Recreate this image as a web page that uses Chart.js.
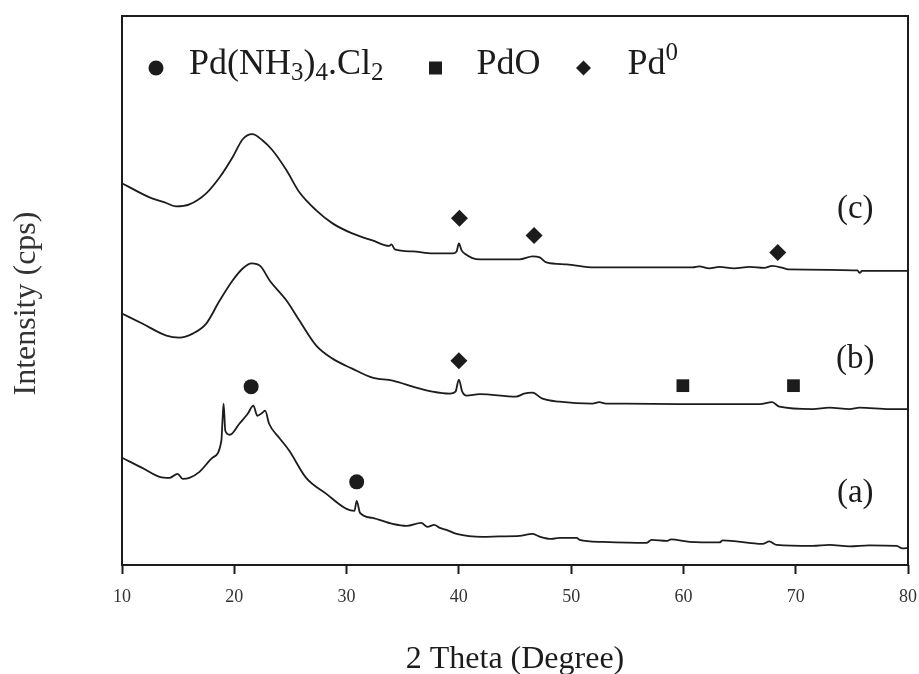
<!DOCTYPE html>
<html>
<head>
<meta charset="utf-8">
<title>XRD patterns</title>
<script src="https://cdn.jsdelivr.net/npm/chart.js@4.4.1/dist/chart.umd.min.js"></script>
<style>
  html, body { margin: 0; padding: 0; background: #fff; }
  #wrap { width: 919px; height: 674px; }
</style>
</head>
<body>
<div id="wrap"><canvas id="xrdChart" width="919" height="674"></canvas></div>
<script>
// 2θ positions (degree) and intensity (arbitrary cps, stacked) for each sample
const thetaA = [10.0, 11.8, 13.35, 14.25, 14.95, 15.4, 16.0, 16.9, 18.05, 18.85, 18.95, 19.05, 19.2, 19.6, 20.45, 21.2, 21.7, 22.05, 22.5, 22.75, 23.1, 24.0, 24.9, 26.4, 28.2, 30.0, 30.7, 30.9, 31.2, 32.3, 34.1, 35.35, 36.65, 37.2, 37.8, 38.3, 38.9, 39.8, 42.1, 43.6, 45.4, 46.55, 47.15, 48.25, 48.95, 50.5, 50.75, 52.8, 56.7, 57.15, 58.5, 58.9, 60.55, 63.2, 63.5, 67.05, 67.65, 68.3, 71.5, 73.0, 74.8, 76.55, 79.0, 79.5, 80.0];
const countsA = [107, 97, 88, 87, 91, 86, 87, 93, 107, 124, 144, 161, 134, 130, 141, 151, 159, 149, 152, 154, 141, 127, 114, 87, 71, 56, 54, 64, 52, 47, 41, 39, 42, 38, 40, 37, 35, 31, 28, 28.5, 29, 31, 28.5, 26, 27, 27, 25, 23, 22, 25, 24, 25.5, 23, 22.5, 24.5, 21, 23.5, 20, 19, 20, 18.5, 19.5, 19, 16.5, 17];

const thetaB = [10.0, 11.8, 13.95, 15.1, 16.3, 17.5, 18.7, 19.85, 20.75, 21.55, 22.35, 23.15, 24.65, 25.8, 27.3, 28.75, 30.5, 32.3, 34.1, 36.2, 37.65, 39.2, 39.7, 40.0, 40.3, 40.7, 41.85, 45.1, 45.8, 46.55, 47.45, 48.95, 51.9, 52.5, 53.1, 54.75, 59.65, 66.8, 67.9, 68.55, 71.5, 73.0, 74.8, 75.7, 78.35, 80.0];
const countsB = [251, 241, 229, 227, 231, 241, 264, 284, 296, 301, 298, 284, 264, 244, 219, 206, 196, 187, 184, 177, 173, 171, 173, 185, 173, 169, 170.5, 168, 171, 172, 166, 163, 161, 162.5, 161, 161, 160.5, 160.5, 162.5, 158, 155.5, 157, 155.5, 157, 155.5, 155.5];

const thetaC = [10.0, 12.45, 13.8, 14.8, 16.0, 17.5, 18.7, 19.85, 20.75, 21.6, 22.5, 23.4, 24.65, 25.8, 27.3, 28.75, 30.5, 32.3, 33.8, 34.0, 34.3, 35.9, 37.65, 39.45, 39.8, 40.0, 40.25, 40.5, 41.85, 45.4, 46.55, 47.2, 47.8, 49.6, 52.1, 57.9, 60.8, 61.4, 62.3, 63.2, 64.5, 65.9, 67.2, 67.9, 69.0, 69.4, 75.5, 75.7, 75.9, 80.0];
const countsC = [381, 367, 362, 358, 360, 371, 387, 407, 425, 430, 424, 414, 394, 372, 354, 341, 331, 324, 318.5, 320, 315, 313, 311, 311, 313, 321, 314, 311, 305, 305, 308, 307, 302, 300, 297, 297, 297, 298, 296, 297.5, 296, 297.5, 296.5, 298.5, 296, 295, 294, 291.5, 293.5, 293.5];

// phase markers placed over the reflections
const saltTheta = [21.5, 30.9];
const saltCounts = [178, 83];
const pdoTheta = [59.95, 69.8];
const pdoCounts = [179, 179];
const pdTheta = [40.05, 46.7, 68.4, 40.0];
const pdCounts = [346, 329, 312, 204];

// sample tags at the right side
const tagText = ['(a)', '(b)', '(c)'];
const tagTheta = [75.3, 75.3, 75.3];
const tagCounts = [72, 205, 355];

const xTicks = [10, 20, 30, 40, 50, 60, 70, 80];

const INK = '#1c1c1c';
const SERIF = "'Liberation Serif', 'DejaVu Serif', serif";

function toPoints(xs, ys) {
    return xs.map((x, i) => ({ x: x, y: ys[i] }));
}

function traceDataset(xs, ys) {
    return {
        data: toPoints(xs, ys),
        showLine: true,
        borderColor: INK,
        borderWidth: 1.8,
        pointRadius: 0,
        cubicInterpolationMode: 'monotone',
        order: 2
    };
}

function markerDataset(xs, ys, style, radius) {
    return {
        data: toPoints(xs, ys),
        showLine: false,
        pointStyle: style,
        pointRadius: radius,
        backgroundColor: INK,
        borderColor: INK,
        borderWidth: 0,
        order: 1
    };
}

// Legend entries: marker shape plus text split into normal / sub / sup runs
const legendItems = [
    { shape: 'circle', gap: 33, after: 52, parts: [['Pd(NH', 0], ['3', 1], [')', 0], ['4', 1], ['.Cl', 0], ['2', 1]] },
    { shape: 'square', gap: 41, after: 43, parts: [['PdO', 0]] },
    { shape: 'diamond', gap: 44, after: 0, parts: [['Pd', 0], ['0', 2]] }
];

function drawShape(ctx, shape, x, y) {
    ctx.beginPath();
    if (shape === 'circle') {
        ctx.arc(x, y, 7.5, 0, Math.PI * 2);
    } else if (shape === 'square') {
        ctx.rect(x - 6.5, y - 6.5, 13, 13);
    } else {
        ctx.moveTo(x - 7.5, y);
        ctx.lineTo(x, y - 7.5);
        ctx.lineTo(x + 7.5, y);
        ctx.lineTo(x, y + 7.5);
        ctx.closePath();
    }
    ctx.fill();
}

function drawRich(ctx, parts, x, baseline) {
    for (const [text, kind] of parts) {
        ctx.font = (kind === 0 ? '36px ' : '25px ') + SERIF;
        const dy = kind === 1 ? 6 : (kind === 2 ? -14 : 0);
        ctx.fillText(text, x, baseline + dy);
        x += ctx.measureText(text).width;
    }
    return x;
}

const frameAndLabels = {
    id: 'frameAndLabels',
    afterDatasetsDraw(chart) {
        const { ctx, chartArea, scales } = chart;
        ctx.save();

        // plot frame
        ctx.strokeStyle = INK;
        ctx.lineWidth = 2;
        ctx.strokeRect(chartArea.left, chartArea.top, chartArea.right - chartArea.left, chartArea.bottom - chartArea.top);

        // (a) (b) (c)
        ctx.fillStyle = INK;
        ctx.font = '33px ' + SERIF;
        ctx.textAlign = 'center';
        ctx.textBaseline = 'middle';
        tagText.forEach((t, i) => {
            ctx.fillText(t, scales.x.getPixelForValue(tagTheta[i]), scales.y.getPixelForValue(tagCounts[i]));
        });

        // y-axis title, sitting a little below the middle of the frame
        ctx.save();
        ctx.translate(chartArea.left - 95, (chartArea.top + chartArea.bottom) / 2 + 13);
        ctx.rotate(-Math.PI / 2);
        ctx.fillStyle = '#333';
        ctx.font = '32px ' + SERIF;
        ctx.fillText('Intensity (cps)', 0, 0);
        ctx.restore();

        // legend row
        ctx.textAlign = 'left';
        ctx.textBaseline = 'alphabetic';
        let x = chartArea.left + 34;
        const baseline = chartArea.top + 58;
        legendItems.forEach((item) => {
            drawShape(ctx, item.shape, x, baseline - 6);
            x = drawRich(ctx, item.parts, x + item.gap, baseline);
            x += item.after;
        });

        ctx.restore();
    }
};

const ctx = document.getElementById('xrdChart').getContext('2d');
new Chart(ctx, {
    type: 'scatter',
    data: {
        datasets: [
            traceDataset(thetaA, countsA),
            traceDataset(thetaB, countsB),
            traceDataset(thetaC, countsC),
            markerDataset(saltTheta, saltCounts, 'circle', 7.5),
            markerDataset(pdoTheta, pdoCounts, 'rect', 9),
            markerDataset(pdTheta, pdCounts, 'rectRot', 8.5)
        ]
    },
    options: {
        responsive: false,
        animation: false,
        devicePixelRatio: 1,
        layout: { padding: { left: 122, top: 16, right: 11, bottom: 0 } },
        plugins: {
            legend: { display: false },
            tooltip: { enabled: false }
        },
        scales: {
            x: {
                type: 'linear',
                min: 10,
                max: 80,
                afterBuildTicks: (scale) => { scale.ticks = xTicks.map(v => ({ value: v })); },
                // the end labels may hang past the frame; don't let them shrink it
                afterFit: (scale) => { scale.paddingLeft = 0; scale.paddingRight = 0; },
                ticks: {
                    font: { family: SERIF, size: 18 },
                    color: '#333',
                    padding: 12,
                    maxRotation: 0
                },
                grid: {
                    display: true,
                    drawOnChartArea: false,
                    drawTicks: true,
                    tickLength: 9,
                    tickColor: INK,
                    tickWidth: 2
                },
                border: { display: false },
                title: {
                    display: true,
                    text: '2 Theta (Degree)',
                    font: { family: SERIF, size: 32 },
                    color: INK,
                    padding: { top: 21, bottom: -5 }
                }
            },
            y: {
                display: false,
                min: 0,
                max: 548
            }
        }
    },
    plugins: [frameAndLabels]
});
</script>
</body>
</html>
